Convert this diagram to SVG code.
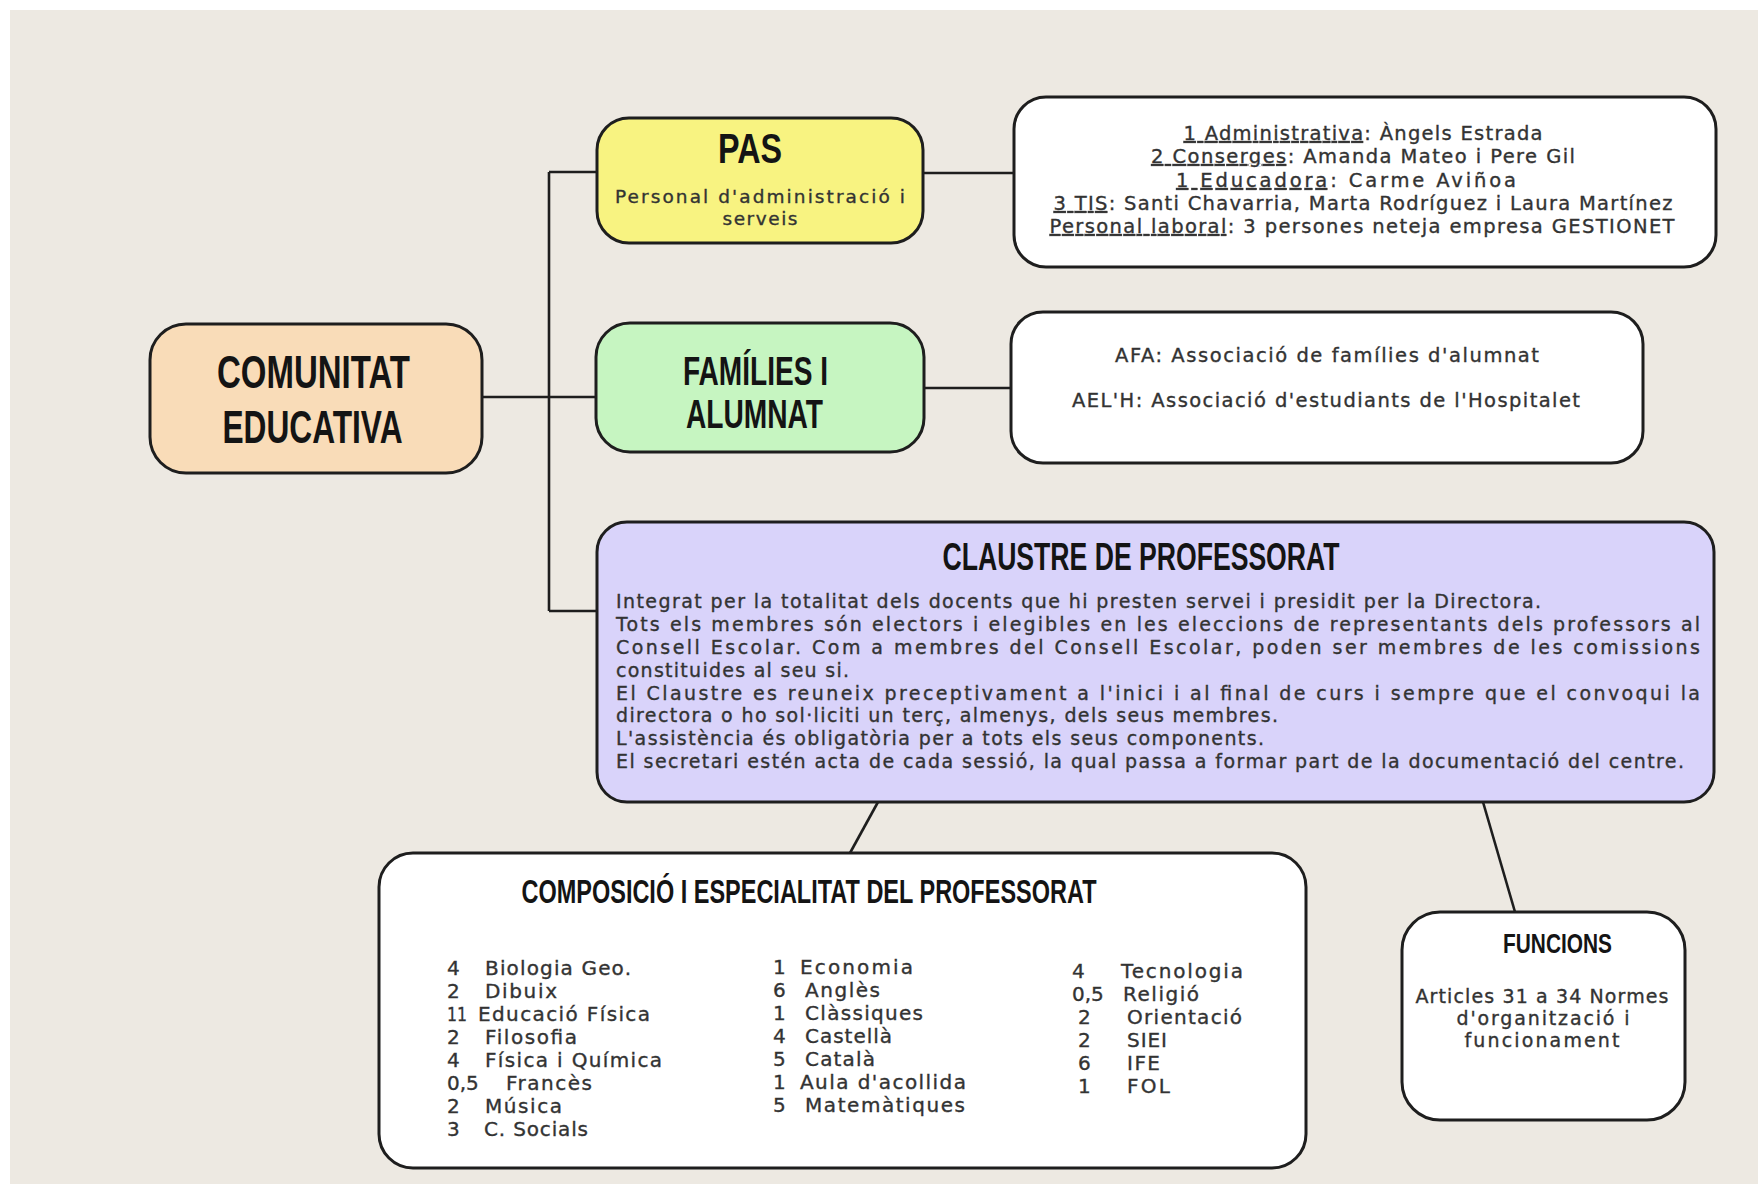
<svg xmlns="http://www.w3.org/2000/svg" width="1758" height="1188" viewBox="0 0 1758 1188">
<style>
.box{stroke:#1e1e1e;stroke-width:3}
.title{font-family:"Liberation Sans Narrow","Liberation Sans",Arial,sans-serif;font-weight:700;fill:#141414}
.body{font-family:"DejaVu Sans","Open Sans","Liberation Sans",sans-serif;fill:#333333;stroke:#333333;stroke-width:0.35}
.conn{stroke:#1e1e1e;stroke-width:2.6;fill:none}
.u{text-decoration:underline}
</style>
<rect x="0" y="0" width="1758" height="1188" fill="#ffffff"/>
<rect x="10" y="10" width="1748" height="1174" fill="#ede9e2"/>

<g id="connectors">
<path class="conn" d="M482,397 H596"/>
<path class="conn" d="M549,172 V611"/>
<path class="conn" d="M549,172 H597"/>
<path class="conn" d="M549,611 H597"/>
<path class="conn" d="M923,173 H1014"/>
<path class="conn" d="M924,388 H1011"/>
<path class="conn" d="M878,802 L850,853"/>
<path class="conn" d="M1483,802 L1515,912"/>
</g>

<g id="comunitat">
<rect class="box" x="150" y="324" width="332" height="149" rx="36" fill="#f9dcb8"/>
<text class="title" x="313.5" y="388" font-size="46" text-anchor="middle" textLength="193" lengthAdjust="spacingAndGlyphs">COMUNITAT</text>
<text class="title" x="312.5" y="443" font-size="46" text-anchor="middle" textLength="180" lengthAdjust="spacingAndGlyphs">EDUCATIVA</text>
</g>

<g id="pas">
<rect class="box" x="597" y="118" width="326" height="125" rx="32" fill="#f8f381"/>
<text class="title" x="750" y="163" font-size="43" text-anchor="middle" textLength="64" lengthAdjust="spacingAndGlyphs">PAS</text>
<text class="body" x="760" y="203" font-size="18.5" text-anchor="middle" textLength="290" lengthAdjust="spacing">Personal d'administració i</text>
<text class="body" x="760" y="225" font-size="18.5" text-anchor="middle" textLength="75" lengthAdjust="spacing">serveis</text>
</g>

<g id="pas-detall">
<rect class="box" x="1014" y="97" width="702" height="170" rx="32" fill="#ffffff"/>
<text class="body" x="1363" y="140" font-size="19.5" text-anchor="middle" textLength="359" lengthAdjust="spacing"><tspan class="u">1 Administrativa</tspan>: Àngels Estrada</text>
<text class="body" x="1363" y="163" font-size="19.5" text-anchor="middle" textLength="424" lengthAdjust="spacing"><tspan class="u">2 Conserges</tspan>: Amanda Mateo i Pere Gil</text>
<text class="body" x="1346" y="187" font-size="19.5" text-anchor="middle" textLength="340" lengthAdjust="spacing"><tspan class="u">1 Educadora</tspan>: Carme Aviñoa</text>
<text class="body" x="1363" y="210" font-size="19.5" text-anchor="middle" textLength="619" lengthAdjust="spacing"><tspan class="u">3 TIS</tspan>: Santi Chavarria, Marta Rodríguez i Laura Martínez</text>
<text class="body" x="1362" y="233" font-size="19.5" text-anchor="middle" textLength="625" lengthAdjust="spacing"><tspan class="u">Personal laboral</tspan>: 3 persones neteja empresa GESTIONET</text>
</g>

<g id="families">
<rect class="box" x="596" y="323" width="328" height="129" rx="34" fill="#c6f5c1"/>
<text class="title" x="755.5" y="385" font-size="41" text-anchor="middle" textLength="145" lengthAdjust="spacingAndGlyphs">FAMÍLIES I</text>
<text class="title" x="754.5" y="428" font-size="41" text-anchor="middle" textLength="137" lengthAdjust="spacingAndGlyphs">ALUMNAT</text>
</g>

<g id="families-detall">
<rect class="box" x="1011" y="312" width="632" height="151" rx="32" fill="#ffffff"/>
<text class="body" x="1327" y="362" font-size="19.5" text-anchor="middle" textLength="424" lengthAdjust="spacing">AFA: Associació de famílies d'alumnat</text>
<text class="body" x="1326" y="407" font-size="19.5" text-anchor="middle" textLength="508" lengthAdjust="spacing">AEL'H: Associació d'estudiants de l'Hospitalet</text>
</g>

<g id="claustre">
<rect class="box" x="597" y="522" width="1117" height="280" rx="30" fill="#d9d3fa"/>
<text class="title" x="1141" y="570" font-size="38" text-anchor="middle" textLength="397" lengthAdjust="spacingAndGlyphs">CLAUSTRE DE PROFESSORAT</text>
<text class="body" x="616" y="608" font-size="19" textLength="925" lengthAdjust="spacing">Integrat per la totalitat dels docents que hi presten servei i presidit per la Directora.</text>
<text class="body" x="616" y="631" font-size="19" textLength="1084" lengthAdjust="spacing">Tots els membres són electors i elegibles en les eleccions de representants dels professors al</text>
<text class="body" x="616" y="654" font-size="19" textLength="1084" lengthAdjust="spacing">Consell Escolar. Com a membres del Consell Escolar, poden ser membres de les comissions</text>
<text class="body" x="616" y="677" font-size="19" textLength="233" lengthAdjust="spacing">constituides al seu si.</text>
<text class="body" x="616" y="700" font-size="19" textLength="1084" lengthAdjust="spacing">El Claustre es reuneix preceptivament a l'inici i al final de curs i sempre que el convoqui la</text>
<text class="body" x="616" y="722" font-size="19" textLength="662" lengthAdjust="spacing">directora o ho sol·liciti un terç, almenys, dels seus membres.</text>
<text class="body" x="616" y="745" font-size="19" textLength="648" lengthAdjust="spacing">L'assistència és obligatòria per a tots els seus components.</text>
<text class="body" x="616" y="768" font-size="19" textLength="1068" lengthAdjust="spacing">El secretari estén acta de cada sessió, la qual passa a formar part de la documentació del centre.</text>
</g>

<g id="composicio">
<rect class="box" x="379" y="853" width="927" height="315" rx="34" fill="#ffffff"/>
<text class="title" x="809" y="903" font-size="34" text-anchor="middle" textLength="575" lengthAdjust="spacingAndGlyphs">COMPOSICIÓ I ESPECIALITAT DEL PROFESSORAT</text>
<g class="body" font-size="20">
<text x="447" y="975">4</text><text x="485" y="975" textLength="146" lengthAdjust="spacing">Biologia Geo.</text>
<text x="447" y="998">2</text><text x="485" y="998" textLength="72" lengthAdjust="spacing">Dibuix</text>
<text x="447" y="1021" textLength="20" lengthAdjust="spacingAndGlyphs">11</text><text x="478" y="1021" textLength="172" lengthAdjust="spacing">Educació Física</text>
<text x="447" y="1044">2</text><text x="485" y="1044" textLength="92" lengthAdjust="spacing">Filosofia</text>
<text x="447" y="1067">4</text><text x="485" y="1067" textLength="177" lengthAdjust="spacing">Física i Química</text>
<text x="447" y="1090">0,5</text><text x="506" y="1090" textLength="86" lengthAdjust="spacing">Francès</text>
<text x="447" y="1113">2</text><text x="485" y="1113" textLength="77" lengthAdjust="spacing">Música</text>
<text x="447" y="1136">3</text><text x="484" y="1136" textLength="104" lengthAdjust="spacing">C. Socials</text>

<text x="773" y="974">1</text><text x="800" y="974" textLength="113" lengthAdjust="spacing">Economia</text>
<text x="773" y="997">6</text><text x="805" y="997" textLength="75" lengthAdjust="spacing">Anglès</text>
<text x="773" y="1020">1</text><text x="805" y="1020" textLength="118" lengthAdjust="spacing">Clàssiques</text>
<text x="773" y="1043">4</text><text x="805" y="1043" textLength="87" lengthAdjust="spacing">Castellà</text>
<text x="773" y="1066">5</text><text x="805" y="1066" textLength="70" lengthAdjust="spacing">Català</text>
<text x="773" y="1089">1</text><text x="800" y="1089" textLength="166" lengthAdjust="spacing">Aula d'acollida</text>
<text x="773" y="1112">5</text><text x="805" y="1112" textLength="160" lengthAdjust="spacing">Matemàtiques</text>

<text x="1072" y="978">4</text><text x="1121" y="978" textLength="122" lengthAdjust="spacing">Tecnologia</text>
<text x="1072" y="1001">0,5</text><text x="1123" y="1001" textLength="76" lengthAdjust="spacing">Religió</text>
<text x="1078" y="1024">2</text><text x="1127" y="1024" textLength="115" lengthAdjust="spacing">Orientació</text>
<text x="1078" y="1047">2</text><text x="1127" y="1047" textLength="40" lengthAdjust="spacing">SIEI</text>
<text x="1078" y="1070">6</text><text x="1127" y="1070" textLength="33" lengthAdjust="spacing">IFE</text>
<text x="1078" y="1093">1</text><text x="1127" y="1093" textLength="43" lengthAdjust="spacing">FOL</text>
</g>
</g>

<g id="funcions">
<rect class="box" x="1402" y="912" width="283" height="208" rx="38" fill="#ffffff"/>
<text class="title" x="1557.5" y="953" font-size="28" text-anchor="middle" textLength="109" lengthAdjust="spacingAndGlyphs">FUNCIONS</text>
<text class="body" x="1542" y="1003" font-size="19" text-anchor="middle" textLength="253" lengthAdjust="spacing">Articles 31 a 34 Normes</text>
<text class="body" x="1543" y="1025" font-size="19" text-anchor="middle" textLength="173" lengthAdjust="spacing">d'organització i</text>
<text class="body" x="1542" y="1047" font-size="19" text-anchor="middle" textLength="155" lengthAdjust="spacing">funcionament</text>
</g>
</svg>
